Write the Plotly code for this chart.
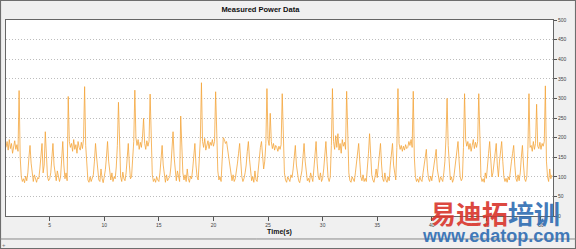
import numpy as np
import plotly.graph_objects as go

# Sample interval 0.1 s, starting at t = 1.0 s
t_start = 1.0
dt = 0.1

# Measured power values (W), one row per second
power = [
    175, 190, 168, 195, 172, 185, 160, 178, 192, 170,   # 1
    182, 165, 320, 150, 100, 88, 95, 85, 102, 90,       # 2
    110, 150, 180, 135, 100, 88, 105, 92, 86, 98,       # 3
    95, 120, 160, 185, 110, 130, 215, 140, 100, 90,     # 4
    95, 110, 150, 185, 130, 100, 90, 115, 95, 88,       # 5
    100, 150, 190, 130, 95, 110, 90, 305, 190, 175,     # 6
    185, 165, 195, 170, 182, 160, 190, 175, 168, 188,   # 7
    172, 195, 330, 180, 120, 92, 86, 100, 88, 95,       # 8
    105, 140, 185, 150, 110, 92, 88, 120, 96, 85,       # 9
    100, 118, 150, 190, 140, 105, 92, 110, 88, 100,     # 10
    95, 125, 180, 290, 150, 100, 88, 112, 95, 90,       # 11
    110, 150, 185, 130, 95, 100, 140, 190, 321, 200,    # 12
    180, 195, 170, 188, 175, 200, 249, 185, 170, 192,   # 13
    178, 190, 311, 165, 105, 88, 95, 86, 100, 92,       # 14
    88, 110, 140, 180, 130, 98, 86, 105, 90, 96,        # 15
    100, 125, 170, 215, 150, 105, 90, 115, 96, 88,      # 16
    255, 160, 110, 92, 105, 88, 120, 95, 86, 102,       # 17
    95, 120, 150, 185, 130, 100, 92, 150, 195, 340,     # 18
    190, 175, 198, 168, 185, 192, 172, 188, 180, 195,   # 19
    178, 190, 317, 170, 115, 92, 100, 88, 150, 200,     # 20
    195, 185, 190, 170, 150, 120, 100, 90, 105, 88,     # 21
    95, 110, 135, 160, 185, 140, 100, 88, 96, 110,      # 22
    130, 165, 190, 145, 105, 90, 100, 86, 115, 92,      # 23
    88, 120, 150, 175, 190, 160, 120, 140, 185, 325,    # 24
    195, 180, 262, 190, 172, 185, 168, 180, 175, 165,   # 25
    178, 170, 182, 312, 175, 110, 92, 86, 100, 95,      # 26
    88, 105, 98, 120, 150, 180, 130, 100, 90, 85,       # 27
    100, 115, 150, 185, 140, 105, 90, 96, 86, 110,      # 28
    95, 88, 120, 160, 190, 135, 100, 92, 110, 88,       # 29
    96, 120, 160, 190, 140, 98, 88, 100, 180, 325,      # 30
    190, 170, 205, 175, 210, 168, 185, 160, 195, 178,   # 31
    188, 170, 318, 160, 110, 90, 86, 100, 92, 88,       # 32
    110, 135, 160, 185, 140, 100, 90, 105, 88, 96,      # 33
    88, 115, 160, 210, 150, 105, 92, 86, 100, 120,      # 34
    98, 130, 160, 185, 130, 95, 88, 110, 92, 86,        # 35
    100, 90, 130, 165, 185, 130, 110, 92, 175, 325,     # 36
    185, 170, 180, 165, 178, 168, 182, 172, 175, 190,   # 37
    180, 195, 175, 318, 150, 100, 88, 95, 86, 100,      # 38
    92, 88, 110, 130, 150, 170, 120, 95, 88, 102,       # 39
    90, 105, 130, 150, 170, 120, 96, 86, 100, 92,       # 40
    88, 110, 140, 200, 300, 180, 115, 92, 100, 86,      # 41
    95, 120, 150, 175, 190, 140, 100, 90, 96, 175,      # 42
    312, 195, 178, 190, 170, 185, 165, 180, 195, 172,   # 43
    188, 175, 190, 312, 160, 100, 88, 95, 86, 110,      # 44
    96, 120, 160, 190, 130, 100, 110, 140, 165, 185,    # 45
    130, 100, 140, 165, 190, 140, 100, 88, 96, 86,      # 46
    100, 92, 110, 140, 160, 180, 130, 96, 88, 105,      # 47
    90, 110, 150, 180, 130, 95, 88, 100, 170, 312,      # 48
    175, 180, 165, 190, 170, 185, 285, 178, 172, 188,   # 49
    170, 185, 178, 190, 332, 140, 100, 88, 120, 95,     # 50
    105,                                                # 51
]

time_s = t_start + dt * np.arange(len(power))

x_ticks = [5, 10, 15, 20, 25, 30, 35, 40, 45, 50]
y_ticks = [0, 50, 100, 150, 200, 250, 300, 350, 400, 450, 500]

fig = go.Figure()
fig.add_trace(go.Scatter(
    x=time_s, y=power, mode="lines",
    line=dict(color="#F4A43A", width=0.8),
    showlegend=False, hoverinfo="skip",
))

tick_font = dict(family="Liberation Sans", size=5, color="#444")

fig.update_layout(
    width=576, height=249,
    margin=dict(l=6, r=23, t=20, b=33),
    paper_bgcolor="#F0F0F0",
    plot_bgcolor="#FFFFFF",
    title=dict(text="<b>Measured Power Data</b>", x=0.452, xanchor="center",
               y=0.962, yanchor="middle",
               font=dict(family="Liberation Sans", size=7.5, color="#111")),
    xaxis=dict(
        range=[1.0, 51.1], tickvals=x_ticks, ticks="outside", ticklen=4,
        tickcolor="#555", tickfont=tick_font, showgrid=False, zeroline=False,
        showline=True, linecolor="#666", linewidth=1, mirror=True,
        title=dict(text="<b>Time(s)</b>", standoff=0,
                   font=dict(family="Liberation Sans", size=7, color="#111")),
    ),
    yaxis=dict(
        range=[0, 500], tickvals=y_ticks, side="right", ticks="outside",
        ticklen=3, tickcolor="#555", tickfont=tick_font, showgrid=True,
        gridcolor="#BDBDBD", griddash="1px,2px", gridwidth=1, zeroline=False,
        showline=True, linecolor="#666", linewidth=1, mirror=True,
    ),
    shapes=[
        # outer frame
        dict(type="rect", xref="paper", yref="paper",
             x0=-0.0101, x1=1.0412, y0=-0.1658, y1=1.0995,
             line=dict(color="#6E6E6E", width=1.2), layer="above"),
        # separator line near bottom
        dict(type="line", xref="paper", yref="paper",
             x0=-0.0101, x1=1.0412, y0=-0.1173, y1=-0.1173,
             line=dict(color="#8A8A8A", width=1)),
    ],
    annotations=[
        dict(text='<b><span style="color:#D9352C">易迪拓</span><span style="color:#2F6DB3">培训</span></b>',
             xref="paper", yref="paper", x=0.894, y=0.02, xanchor="center",
             yanchor="middle", showarrow=False, opacity=0.9,
             font=dict(family="Noto Sans CJK SC", size=26)),
        dict(text="<b>www.edatop.com</b>", xref="paper", yref="paper",
             x=0.896, y=-0.102, xanchor="center", yanchor="middle",
             showarrow=False, opacity=0.9,
             font=dict(family="Liberation Sans", size=18, color="#2F6DB3")),
        dict(text="+", xref="paper", yref="paper", x=-0.004, y=-0.148,
             xanchor="center", yanchor="middle", showarrow=False,
             font=dict(family="Liberation Sans", size=6, color="#777")),
    ],
)

fig.write_html("out.html")
